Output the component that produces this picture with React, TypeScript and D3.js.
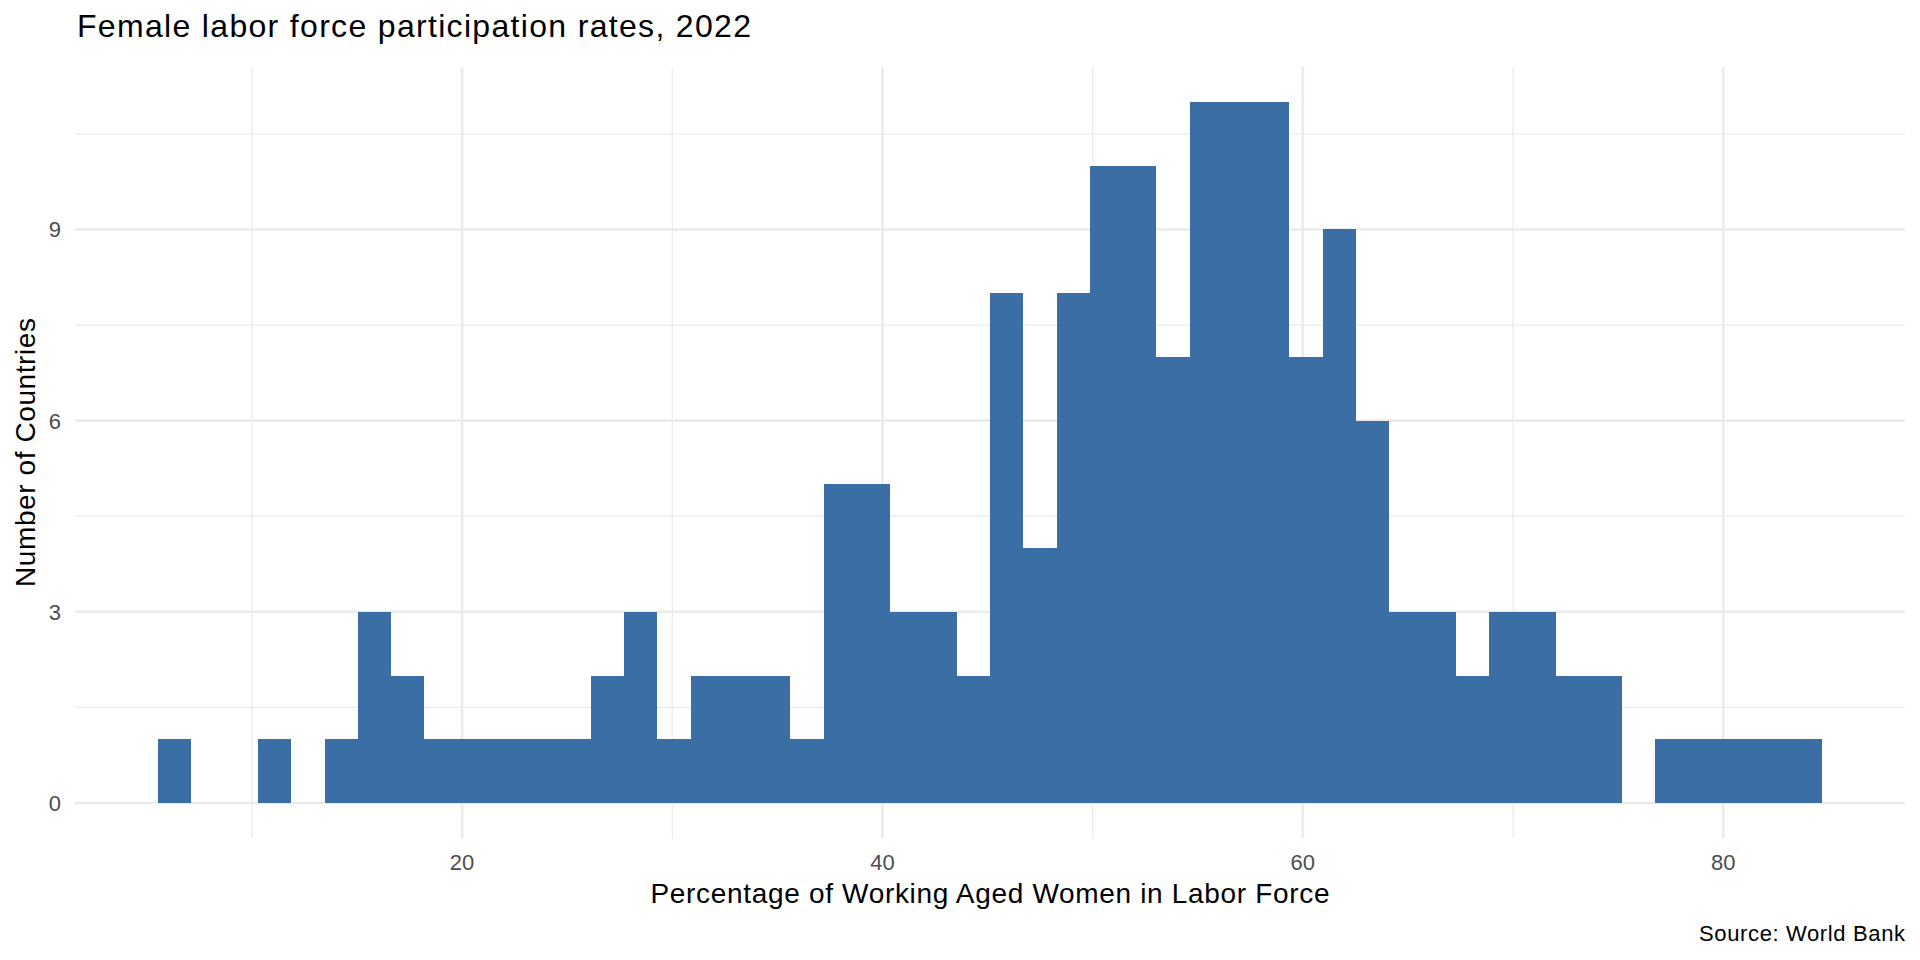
import React, { useRef, useEffect } from "react";
import * as d3 from "d3";

// histogram counts (50 bins)
const counts = [
    1, 0, 0, 1, 0, 1, 3, 2, 1, 1,
    1, 1, 1, 2, 3, 1, 2, 2, 2, 1,
    5, 5, 3, 3, 2, 8, 4, 8, 10, 10,
    7, 11, 11, 11, 7, 9, 6, 3, 3, 2,
    3, 3, 2, 2, 0, 1, 1, 1, 1, 1,
];
const binStart = 5.54;
const binWidth = 1.583;

const xMajor = [20, 40, 60, 80];
const xMinor = [10, 30, 50, 70];
const yMajor = [0, 3, 6, 9];
const yMinor = [1.5, 4.5, 7.5, 10.5];

const title = "Female labor force participation rates, 2022";
const xTitle = "Percentage of Working Aged Women in Labor Force";
const yTitle = "Number of Countries";
const caption = "Source: World Bank";

const App = () => {
    const ref = useRef<SVGSVGElement | null>(null);

    useEffect(() => {
        const width = 1920;
        const height = 960;
        const panel = { left: 75, right: 1905, top: 67, bottom: 838 };
        const font = "'Liberation Sans', Arial, Helvetica, sans-serif";

        const svg = d3.select(ref.current);
        svg.selectAll("*").remove();

        const bins = counts.map((c, i) => ({
            x0: binStart + i * binWidth,
            x1: binStart + (i + 1) * binWidth,
            count: c,
        }));

        const lo = bins[0].x0;
        const hi = bins[bins.length - 1].x1;
        const padX = (hi - lo) * 0.05;
        const yMax = d3.max(counts)!;

        const x = d3
            .scaleLinear()
            .domain([lo - padX, hi + padX])
            .range([panel.left, panel.right]);
        const y = d3
            .scaleLinear()
            .domain([-yMax * 0.05, yMax * 1.05])
            .range([panel.bottom, panel.top]);

        svg.append("rect")
            .attr("width", width)
            .attr("height", height)
            .attr("fill", "#ffffff");

        // grid: minor first, then major
        const grid = svg.append("g").attr("stroke", "#EBEBEB");
        grid.selectAll("line.xmin")
            .data(xMinor)
            .join("line")
            .attr("x1", (d) => x(d))
            .attr("x2", (d) => x(d))
            .attr("y1", panel.top)
            .attr("y2", panel.bottom)
            .attr("stroke-width", 1.3);
        grid.selectAll("line.ymin")
            .data(yMinor)
            .join("line")
            .attr("x1", panel.left)
            .attr("x2", panel.right)
            .attr("y1", (d) => y(d))
            .attr("y2", (d) => y(d))
            .attr("stroke-width", 1.3);
        grid.selectAll("line.xmaj")
            .data(xMajor)
            .join("line")
            .attr("x1", (d) => x(d))
            .attr("x2", (d) => x(d))
            .attr("y1", panel.top)
            .attr("y2", panel.bottom)
            .attr("stroke-width", 2.6);
        grid.selectAll("line.ymaj")
            .data(yMajor)
            .join("line")
            .attr("x1", panel.left)
            .attr("x2", panel.right)
            .attr("y1", (d) => y(d))
            .attr("y2", (d) => y(d))
            .attr("stroke-width", 2.6);

        // bars
        svg.append("g")
            .selectAll("rect")
            .data(bins.filter((b) => b.count > 0))
            .join("rect")
            .attr("x", (d) => x(d.x0))
            .attr("y", (d) => y(d.count))
            .attr("width", (d) => x(d.x1) - x(d.x0))
            .attr("height", (d) => y(0) - y(d.count))
            .attr("fill", "#3A6EA5")
            .attr("shape-rendering", "crispEdges");

        // tick labels
        svg.append("g")
            .selectAll("text")
            .data(xMajor)
            .join("text")
            .attr("x", (d) => x(d))
            .attr("y", 870)
            .attr("text-anchor", "middle")
            .attr("font-family", font)
            .attr("font-size", 22)
            .attr("fill", "#4D4D4D")
            .text((d) => d);
        svg.append("g")
            .selectAll("text")
            .data(yMajor)
            .join("text")
            .attr("x", 61)
            .attr("y", (d) => y(d))
            .attr("dy", "0.36em")
            .attr("text-anchor", "end")
            .attr("font-family", font)
            .attr("font-size", 22)
            .attr("fill", "#4D4D4D")
            .text((d) => d);

        // titles
        svg.append("text")
            .attr("x", 77)
            .attr("y", 37)
            .attr("font-family", font)
            .attr("font-size", 32)
            .attr("textLength", 674)
            .attr("lengthAdjust", "spacing")
            .attr("fill", "#000")
            .text(title);
        svg.append("text")
            .attr("x", (panel.left + panel.right) / 2)
            .attr("y", 903)
            .attr("text-anchor", "middle")
            .attr("font-family", font)
            .attr("font-size", 28)
            .attr("textLength", 679)
            .attr("lengthAdjust", "spacing")
            .attr("fill", "#000")
            .text(xTitle);
        svg.append("text")
            .attr("transform", `translate(35,${(panel.top + panel.bottom) / 2}) rotate(-90)`)
            .attr("text-anchor", "middle")
            .attr("font-family", font)
            .attr("font-size", 28)
            .attr("textLength", 269)
            .attr("lengthAdjust", "spacing")
            .attr("fill", "#000")
            .text(yTitle);
        svg.append("text")
            .attr("x", panel.right)
            .attr("y", 941)
            .attr("text-anchor", "end")
            .attr("font-family", font)
            .attr("font-size", 22)
            .attr("textLength", 206)
            .attr("lengthAdjust", "spacing")
            .attr("fill", "#000")
            .text(caption);
    }, []);

    return (
        <svg
            ref={ref}
            width={1920}
            height={960}
            style={{ position: "absolute", left: 0, top: 0, display: "block" }}
        />
    );
};

export default App;
